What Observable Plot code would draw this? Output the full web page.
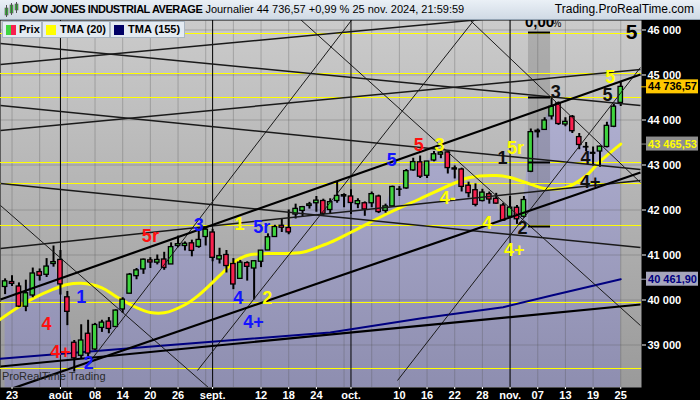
<!DOCTYPE html>
<html><head><meta charset="utf-8">
<script src="https://cdn.jsdelivr.net/npm/d3@7"></script>
<script src="https://cdn.jsdelivr.net/npm/@observablehq/plot@0.6"></script>
<style>
html,body{margin:0;padding:0;background:#000;}
body{width:700px;height:400px;overflow:hidden;position:relative;font-family:"Liberation Sans",Arial,sans-serif;}
#title{position:absolute;left:0;top:0;width:700px;height:20px;background:linear-gradient(#eaf0f6,#d0dae5);border-bottom:1px solid #93a3b3;box-sizing:border-box;z-index:5;font-size:11px;color:#000;}
#title .t{position:absolute;left:22px;top:3px;white-space:nowrap;}
#title .t b{letter-spacing:-0.45px}
#title .r{position:absolute;right:6px;top:2px;font-size:12px;white-space:nowrap;}
#icon{position:absolute;left:4px;top:2px;}
#chart{position:absolute;left:0;top:20px;}
.lg{position:absolute;top:21px;height:17px;background:#e4ebf2;border:1px solid #aab6c2;box-sizing:border-box;font-size:11px;font-weight:bold;line-height:15px;z-index:4;white-space:nowrap;color:#000}
.sw{position:absolute;left:3px;top:3px;width:10px;height:10px}
#wm{position:absolute;left:2px;top:370px;font-size:11px;color:#2a2a2a;z-index:4;white-space:nowrap}
</style></head><body>
<svg width="0" height="0" style="position:absolute"><defs>
<linearGradient id="bgGrad" x1="0" y1="0" x2="0" y2="1"><stop offset="0" stop-color="#cbcbcb"/><stop offset="1" stop-color="#9a9a9a"/></linearGradient>
<linearGradient id="areaGrad" gradientUnits="userSpaceOnUse" x1="0" y1="60" x2="0" y2="367"><stop offset="0" stop-color="#b2b2d3"/><stop offset="1" stop-color="#8e8eb0"/></linearGradient>
</defs></svg>
<div id="title">
  <svg id="icon" width="15" height="16"><rect x="1" y="6" width="3" height="7" fill="#3c3" stroke="#555" stroke-width="0.6"/><line x1="2.5" y1="3" x2="2.5" y2="15" stroke="#555"/><rect x="6" y="3" width="3" height="8" fill="#3c3" stroke="#555" stroke-width="0.6"/><line x1="7.5" y1="1" x2="7.5" y2="13" stroke="#555"/><rect x="11" y="2" width="3" height="6" fill="#3c3" stroke="#555" stroke-width="0.6"/><line x1="12.5" y1="0" x2="12.5" y2="11" stroke="#555"/></svg>
  <div class="t" id="ttext"></div>
  <div class="r">Trading.ProRealTime.com</div>
</div>
<div class="lg" style="left:2px;width:40px"><span class="sw"><span style="position:absolute;left:0;top:0;width:5px;height:10px;background:#3fd43f"></span><span style="position:absolute;left:5px;top:0;width:5px;height:10px;background:#f8204e"></span></span><span style="position:absolute;left:16px">Prix</span></div>
<div class="lg" style="left:42px;width:68px"><span class="sw" style="background:#ffff00"></span><span style="position:absolute;left:17px">TMA (20)</span></div>
<div class="lg" style="left:110px;width:75px"><span class="sw" style="background:#000066"></span><span style="position:absolute;left:17px">TMA (155)</span></div>
<div id="wm">ProRealTime Trading</div>
<div id="chart"></div>
<script>
// ---------------- DATA ----------------
const dates = ["2024-07-22","2024-07-23","2024-07-24","2024-07-25","2024-07-26","2024-07-29","2024-07-30","2024-07-31",
"2024-08-01","2024-08-02","2024-08-05","2024-08-06","2024-08-07","2024-08-08","2024-08-09","2024-08-12","2024-08-13","2024-08-14","2024-08-15","2024-08-16","2024-08-19","2024-08-20","2024-08-21","2024-08-22","2024-08-23","2024-08-26","2024-08-27","2024-08-28","2024-08-29","2024-08-30",
"2024-09-03","2024-09-04","2024-09-05","2024-09-06","2024-09-09","2024-09-10","2024-09-11","2024-09-12","2024-09-13","2024-09-16","2024-09-17","2024-09-18","2024-09-19","2024-09-20","2024-09-23","2024-09-24","2024-09-25","2024-09-26","2024-09-27","2024-09-30",
"2024-10-01","2024-10-02","2024-10-03","2024-10-04","2024-10-07","2024-10-08","2024-10-09","2024-10-10","2024-10-11","2024-10-14","2024-10-15","2024-10-16","2024-10-17","2024-10-18","2024-10-21","2024-10-22","2024-10-23","2024-10-24","2024-10-25","2024-10-28","2024-10-29","2024-10-30","2024-10-31",
"2024-11-01","2024-11-04","2024-11-05","2024-11-06","2024-11-07","2024-11-08","2024-11-11","2024-11-12","2024-11-13","2024-11-14","2024-11-15","2024-11-18","2024-11-19","2024-11-20","2024-11-21","2024-11-22","2024-11-25"];

const open  = [40290,40400,40300,39850,40100,40620,40560,40800, 40890,40060,39050,38760,39250,38900,39380,39520,39400,39790,40140,40530,40680,40880,40830,40900,40790,41200,41200,41260,41180,41400,
41500,40900,41000,40800,40470,40820,40700,40850,41100,41400,41650,41600,41900,41980,42090,42150,42200,42000,42200,42300,
42300,42130,42150,42150,42300,41980,42080,42450,42480,42880,43060,42760,43100,43230,43280,42900,42900,42540,42440,42200,42350,42250,42100,
41850,42050,41850,42850,43760,43780,44080,44370,43900,44070,43620,43400,43250,43300,43400,43850,44380];
const high  = [40470,40540,40380,40440,40710,40690,40920,41200, 41100,40190,39100,39450,39550,39480,39550,39610,39780,40050,40590,40700,40910,40940,41000,41060,41270,41420,41290,41330,41580,41590,
41570,41150,41100,40920,40880,40850,40870,41100,41470,41660,41800,42000,42130,42080,42170,42300,42240,42250,42630,42360,
42450,42250,42180,42400,42330,42130,42530,42520,42900,43150,43200,43080,43300,43330,43300,42980,42930,42620,42580,42460,42400,42370,42150,
42300,42100,42300,43800,43800,44050,44490,44400,44050,44100,43700,43500,43400,43420,43950,44350,44850];
const low   = [40120,40300,39830,39740,40050,40420,40500,40730, 40110,39430,38400,38700,38740,38880,39280,39250,39390,39700,40140,40450,40570,40700,40780,40660,40790,41160,41090,40960,41150,41200,
40850,40800,40600,40230,40460,40420,40000,40720,41100,41400,41500,41450,41800,41850,42020,41950,41880,41900,42150,42050,
41900,42030,41860,42050,41920,41930,42070,42300,42460,42860,42700,42700,43070,43140,42800,42690,42400,42270,42070,42180,42130,42130,41760,
41840,41680,41820,42830,43600,43770,44000,43880,43850,43700,43340,43300,42980,42950,43380,43830,44300];
const close = [40415,40358,39853,40150,40589,40539,40743,40842, 40347,39737,38703,39100,38810,39446,39498,39357,39765,40008,40563,40659,40896,40834,40890,40712,41175,41240,41250,41091,41335,41563,
40937,40975,40755,40345,40830,40737,40861,41097,41394,41622,41606,41503,42025,42063,42125,42208,41915,42175,42313,42330,
42156,42197,42012,42353,41954,42080,42512,42454,42864,43065,42740,43077,43239,43276,42931,42925,42514,42374,42114,42387,42233,42142,41763,
42052,41794,42222,43730,43729,43989,44293,43911,43958,43751,43445,43390,43269,43408,43870,44296.51,44736.57];

// TMA(20) (trading-day index, value)
const tma20Idx = [-1,2,4,7,9,11,14,16,19,21,23,26,28,31,33,35,38,40,43,45,47,50,55,60,65,67,71,73,76,78,81,84,86,89];
const tma20Val = [39540,39850,40030,40240,40344,40370,40270,40080,39830,39722,39715,39895,40110,40540,40830,40990,41033,41033,41060,41160,41278,41505,41900,42250,42600,42715,42765,42722,42570,42480,42495,42760,43080,43465.53];
// TMA(155)
const tma155Idx = [-1,23,47,60,72,79,89];
const tma155Val = [38690,38990,39280,39590,39840,40100,40461.90];

// axis ticks
const yTicks = [39000,40000,41000,42000,43000,44000,45000,46000];
const gridIndex = [1,5,9,13,17,21,25,29,33,37,41,45,49,53,57,61,65,69,73,77,81,85,89];
const tickIndex = [1,8,13,17,21,25,30,37,41,45,50,57,61,65,69,73,77,81,85,89];
const tickLabel = ["23","août","08","14","20","26","sept.","12","18","24","oct.","10","16","22","28","nov.","07","13","19","25"];
const monthIndex = [8,30,50,73];

// horizontal support / resistance levels (yellow)
const yellowLevels = [45922,45033,44500,43056,42589,41656,39944,38478];

// trend lines [idx1, value1, idx2, value2]
const thickLines = [[-0.665,40011,91.85,45011],[-0.665,37944,91.85,42833],[-0.665,38522,91.85,39900]];
const mediumLines = [[-0.665,45700,91.85,44322],[-0.665,45233,91.85,46567],[-0.665,44322,91.85,42900],[-0.665,43767,91.85,45122],[-0.665,41144,91.85,42656],[-0.665,42589,91.85,41167]];
const thinLines = [[-0.665,42100,30.71,37878],[12.06,38589,51.38,46478],[41.26,46433,91.85,39433],[64.53,46611,91.85,42611],[27.81,38433,70.03,46656],[56.73,38211,91.85,45167]];

// "0,00 %" zone
const zoneIdx = [75.66,78.85];
const zoneVal = [41633,45922];
const zoneMarks = [45944,44500,43056,41633];

// wave labels [text, idx, value]
const labelsBlue = [["1",11,40056],["2",12.1,38600],["3",28,41656],["5r",37.1,41611],["4",33.7,40033],["4+",35.9,39500],["5",55.9,43100]];
const labelsRed = [["4",6,39456],["4+",8,38833],["5r",21,41411],["5",59.8,43433]];
const labelsYellow = [["1",33.9,41678],["2",37.9,40033],["3",62.8,43433],["5r",73.8,43367],["4-",64,42256],["4",69.7,41700],["4+",73.6,41100],["5",87.5,44944]];
const labelsBlack = [["1",71.9,43144],["2",74.8,41589],["3",79.6,44611],["5",87.1,44544],["4",83.9,43144],["4+",84.6,42611]];

// ---------------- CHART ----------------
const fmtInt = v => d3.format(",")(v).replace(/,/g," ");
const fmt2 = v => d3.format(",.2f")(v).replace(/,/g," ").replace(".",",");
const n = close.length;
const pct = (close[n-1]/close[n-2]-1)*100;
document.getElementById("ttext").innerHTML =
  "<b>DOW JONES INDUSTRIAL AVERAGE</b> Journalier " + fmt2(close[n-1]) + " " + (pct>=0?"+":"") + pct.toFixed(2).replace(".",",") + " % 25 nov. 2024, 21:59:59";

const W = 700, H = 380, mR = 59, mB = 13, plotW = W - mR, plotH = H - mB;
const xDomain = [-0.665, 92.0];
const yDomain = [38055.6, 46211.1];
const xs = Plot.scale({x:{domain:xDomain, range:[0,plotW]}});
const ys = Plot.scale({y:{domain:yDomain, range:[plotH,0]}});
const px2x = p => xs.invert(p);
const yOff = (v,dp) => ys.invert(ys.apply(v)+dp);

const candles = dates.map((d,i)=>({i, o:open[i], h:high[i], l:low[i], c:close[i]}));
const tma20 = tma20Idx.map((x,k)=>({x, v:tma20Val[k]}));
const tma155 = tma155Idx.map((x,k)=>({x, v:tma155Val[k]}));
const tickLabelOf = new Map(tickIndex.map((t,k)=>[t,tickLabel[k]]));

const green = "#3fd43f", red = "#f8204e";
const lineOpts = (sw, col) => ({x1:d=>d[0], y1:d=>d[1], x2:d=>d[2], y2:d=>d[3], stroke:col, strokeWidth:sw, clip:true});
const lab = (arr, col) => Plot.text(arr, {x:d=>d[1], y:d=>d[2], text:d=>d[0], fill:col, fontSize:18, fontWeight:"bold", fontFamily:"Liberation Sans, Arial, sans-serif"});

const boxes = [
  {v:close[n-1], bg:"#ffc800", fg:"#000000"},
  {v:tma20Val[tma20Val.length-1], bg:"#8e8e8e", fg:"#ffff00"},
  {v:tma155Val[tma155Val.length-1], bg:"#a6a6bc", fg:"#000080"}
];

const chart = Plot.plot({
  width:W, height:H, marginTop:0, marginLeft:0, marginRight:mR, marginBottom:mB,
  x:{type:"linear", domain:xDomain, axis:null, label:null},
  y:{type:"linear", domain:yDomain, axis:null, label:null},
  color:{type:"identity"},
  style:{background:"#000", overflow:"visible", fontFamily:"Liberation Sans, Arial, sans-serif"},
  marks:[
    Plot.frame({fill:"url(#bgGrad)", stroke:"none"}),
    Plot.areaY(candles, {x:"i", y1:yDomain[0], y2:"c", fill:"url(#areaGrad)"}),
    Plot.gridX(gridIndex, {stroke:"#505050", strokeOpacity:0.3, strokeWidth:1}),
    Plot.gridY(yTicks, {stroke:"#505050", strokeOpacity:0.3, strokeWidth:1}),
    Plot.rect([0], {x1:zoneIdx[0], x2:zoneIdx[1], y1:zoneVal[0], y2:zoneVal[1], fill:"#4a4a4a", fillOpacity:0.22}),
    Plot.ruleY(yellowLevels, {stroke:"#ffff00", strokeWidth:1}),
    Plot.ruleX(monthIndex, {stroke:"#000", strokeWidth:1}),
    Plot.line(tma155, {x:"x", y:"v", stroke:"#000080", strokeWidth:2, clip:true}),
    Plot.line(tma20, {x:"x", y:"v", stroke:"#ffff00", strokeWidth:3, curve:"catmull-rom", clip:true}),
    Plot.ruleX(candles, {x:"i", y1:"l", y2:"h", stroke:"#000", strokeWidth:2}),
    Plot.rect(candles, {x1:d=>d.i-0.32, x2:d=>d.i+0.32, y1:"o", y2:"c", fill:d=>d.c>=d.o?green:red, stroke:"#000", strokeWidth:1.3}),
    Plot.link(thinLines, lineOpts(1, "#1a1a1a")),
    Plot.link(mediumLines, lineOpts(1.5, "#1a1a1a")),
    Plot.link(thickLines, lineOpts(2.2, "#000")),
    Plot.ruleY(zoneMarks, {x1:zoneIdx[0], x2:zoneIdx[1], stroke:"#000", strokeWidth:2}),
    lab(labelsBlue, "#1414ff"),
    lab(labelsRed, "#ff1010"),
    lab(labelsYellow, "#ffff00"),
    lab(labelsBlack, "#101010"),
    Plot.text(["0,00"], {x:(zoneIdx[0]+zoneIdx[1])/2, y:yOff(yDomain[1],6), text:d=>d, lineAnchor:"bottom", fontSize:15, fontWeight:"bold", fill:"#000"}),
    Plot.text(["%"], {x:zoneIdx[1]+0.3, y:yOff(yDomain[1],6), text:d=>d, textAnchor:"start", lineAnchor:"bottom", fontSize:10, fill:"#000"}),
    Plot.text(["5"], {x:px2x(631), y:yOff(yDomain[1],12), text:d=>d, fontSize:21, fontWeight:"bold", fill:"#000"}),
    Plot.axisY(yTicks, {anchor:"right", tickFormat:fmtInt, color:"#fff", fontSize:11, fontWeight:"bold", tickSize:4, tickPadding:2, label:null}),
    Plot.axisX(tickIndex, {anchor:"bottom", tickFormat:t=>tickLabelOf.get(t), color:"#fff", fontSize:11, fontWeight:"bold", tickSize:2, tickPadding:2, label:null}),
    Plot.ruleY(boxes, {y:"v", x1:px2x(641), x2:px2x(646), stroke:d=>d.bg, strokeWidth:1}),
    Plot.rect(boxes, {x1:px2x(646), x2:px2x(698), y1:d=>yOff(d.v,7), y2:d=>yOff(d.v,-7), fill:d=>d.bg}),
    Plot.text(boxes, {x:px2x(672), y:"v", text:d=>fmt2(d.v), fill:d=>d.fg, fontSize:11, fontWeight:"bold"})
  ]
});
document.getElementById("chart").appendChild(chart);
</script>
</body></html>
